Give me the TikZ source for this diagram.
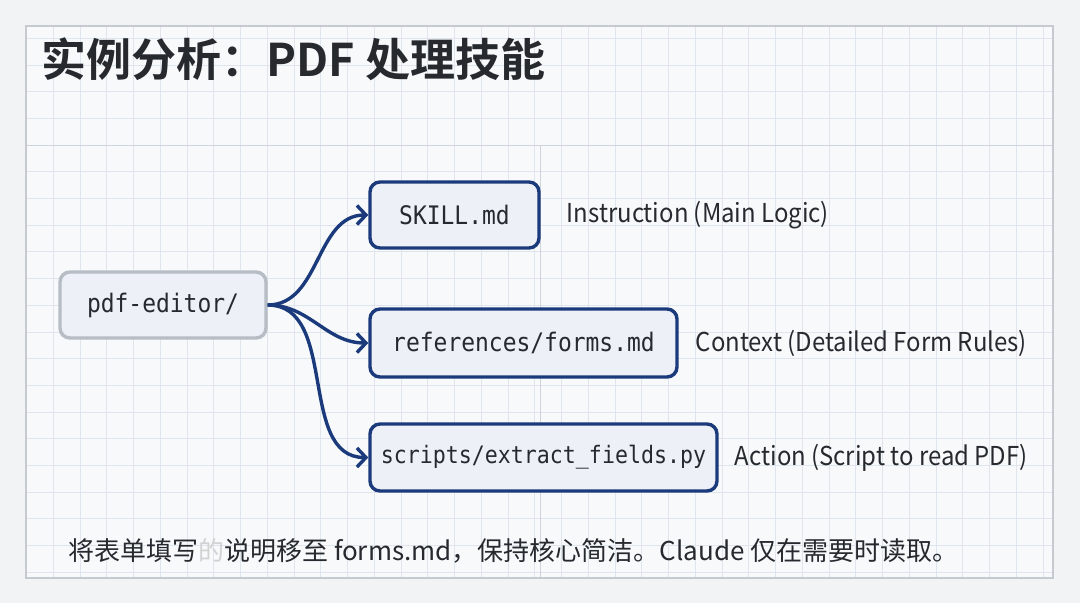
\documentclass[tikz,border=0pt]{standalone}
\usepackage{fontspec}
\usetikzlibrary{arrows.meta, positioning}
\setmainfont{Noto Sans CJK SC}
\newfontfamily\titlefont{Noto Sans CJK SC}[BoldFont={* Bold}]
\newfontfamily\notefont{Noto Sans CJK SC}[FakeStretch=0.92]
\newfontfamily\codefont{DejaVu Sans Mono}[FakeStretch=0.9]
\definecolor{paper}{HTML}{F1F3F5}
\definecolor{sheet}{HTML}{F7F9FB}
\definecolor{gridc}{HTML}{DFE5EC}
\definecolor{gridmajor}{HTML}{CDD4DC}
\definecolor{navy}{HTML}{1B3A7C}
\definecolor{boxfill}{HTML}{EDF0F6}
\definecolor{greyline}{HTML}{B7BDC5}
\definecolor{ink}{HTML}{262A2F}

\begin{document}
\begin{tikzpicture}[
    x=1pt, y=-1pt,
    every node/.style={text=ink},
    file/.style={draw=navy, fill=boxfill, line width=3.4pt, rounded corners=10pt,
        font=\codefont\fontsize{25.5}{30}\selectfont, inner sep=0pt, minimum height=66pt},
    folder/.style={file, draw=greyline},
    note/.style={font=\notefont\fontsize{26}{30}\selectfont, anchor=west, inner sep=0pt},
    link/.style={navy, line width=3.4pt, -{Straight Barb[length=9pt, width=19pt]}},
]
\useasboundingbox (0,0) rectangle (1080,603);
\fill[paper] (0,0) rectangle (1080,603);

% the sheet and its grid
\fill[sheet] (26,26) rectangle (1053,578);
\foreach \i in {0,...,38}{
    \draw[gridc, line width=0.8pt] ({26.6+26.75*\i}, 26) -- ({26.6+26.75*\i}, 578);
}
\foreach \j in {-4,...,16}{
    \draw[gridc, line width=0.8pt] (26, {145+26.7*\j}) -- (1053, {145+26.7*\j});
}
\draw[gridmajor, line width=1pt] (26,145) -- (1053,145);
\draw[gridmajor, line width=1pt] (540,145) -- (540,578);
\draw[greyline!80, line width=1.5pt] (26,26) rectangle (1053,578);

% title
\node[anchor=west, font=\titlefont\bfseries\fontsize{45}{50}\selectfont] (title) at (38,59)
    {实例分析：PDF 处理技能};

% the folder and its files
\node[folder, minimum width=206pt] (editor) at (163,305) {pdf-editor/};
\node[file, minimum width=169pt] (skill) at (454.5,215) {SKILL.md};
\node[file, minimum width=307pt, minimum height=68pt] (forms) at (523.5,343) {references/forms.md};
\node[file, minimum width=347pt, minimum height=67pt, font=\codefont\fontsize{24}{30}\selectfont]
    (script) at (543.5,457.5) {scripts/extract\_fields.py};

\node[note, right=26pt of skill] (skillnote) {Instruction (Main Logic)};
\node[note, right=17pt of forms] (formsnote) {Context (Detailed Form Rules)};
\node[note, right=16pt of script] (scriptnote) {Action (Script to read PDF)};

\draw[link] (editor.east) to[out=0, in=180] (skill.west);
\draw[link] (editor.east) to[out=0, in=180] (forms.west);
\draw[link] (editor.east) to[out=0, in=180] (script.west);

% footnote
\node[note, font=\fontsize{26}{30}\selectfont] (foot) at (68,551)
    {将表单填写{\color{gray!35}的}说明移至 forms.md，保持核心简洁。Claude 仅在需要时读取。};
\end{tikzpicture}
\end{document}
